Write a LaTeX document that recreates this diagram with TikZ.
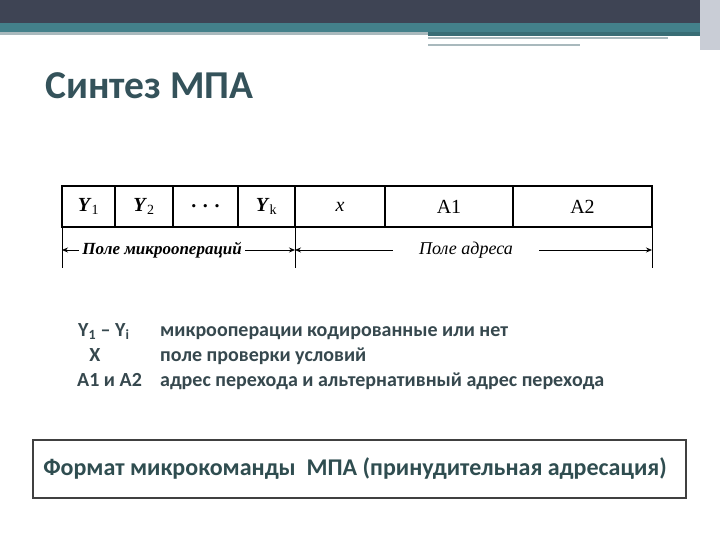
\documentclass[tikz,border=0pt]{standalone}
\usepackage{fontspec}
\setmainfont{Carlito}
\newfontfamily\bookfont{Liberation Serif}
\usetikzlibrary{positioning,arrows.meta}

\definecolor{barDark}{HTML}{3E4454}
\definecolor{barTeal}{HTML}{43808A}
\definecolor{barGrey}{HTML}{A9B9BD}
\definecolor{barSide}{HTML}{C9CDD6}
\definecolor{titleInk}{HTML}{34525A}
\definecolor{textInk}{HTML}{36484E}
\definecolor{boxInk}{HTML}{2F4D50}

\tikzset{
  cell/.style={draw, line width=1.8pt, minimum height=41pt, inner sep=0pt, outer sep=0pt,
    font=\bookfont\fontsize{20}{20}\selectfont},
  span/.style={{Stealth[length=6pt,width=5pt]}-{Stealth[length=6pt,width=5pt]}, line width=0.8pt},
  spanlabel/.style={fill=white, inner sep=3pt, font=\bookfont\itshape\fontsize{18}{18}\selectfont},
  legend/.style={text=textInk, inner sep=0pt, font=\bfseries\fontsize{20}{20}\selectfont},
}

\begin{document}
\begin{tikzpicture}[x=1pt, y=-1pt]
  \useasboundingbox (0,0) rectangle (720,540);
  \fill[white] (0,0) rectangle (720,540);

  % slide header bars
  \fill[barDark] (0,0) rectangle (720,23);
  \fill[barTeal] (0,23) rectangle (720,32);
  \fill[barTeal!85!black] (428,32) rectangle (700,36);
  \fill[barGrey] (0,32) rectangle (428,35);
  \fill[barGrey] (428,37) rectangle (668,39);
  \fill[barGrey] (428,44) rectangle (580,46);
  \fill[barSide] (700,0) rectangle (720,50);

  % title
  \node[anchor=west, inner sep=0pt, text=titleInk, font=\bfseries\fontsize{39.5}{39.5}\selectfont] (title) at (45,86) {Синтез МПА};

  % microcommand format
  \node[cell, minimum width=53pt] (y1) at (88.5,206.5) {\textbf{\textit{Y}}\textsubscript{1}};
  \node[cell, minimum width=58pt, right=0pt of y1] (y2) {\textbf{\textit{Y}}\textsubscript{2}};
  \node[cell, minimum width=65pt, right=0pt of y2] (dots) {\textbf{.\,\,.\,\,.}};
  \node[cell, minimum width=57pt, right=0pt of dots] (yk) {\textbf{\textit{Y}}\textsubscript{k}};
  \node[cell, minimum width=90pt, right=0pt of yk] (cond) {\textit{x}};
  \node[cell, minimum width=128pt, right=0pt of cond] (a1) {A1};
  \node[cell, minimum width=139pt, right=0pt of a1] (a2) {A2};

  % field borders
  \coordinate (bl) at ([yshift=-41pt]y1.south west);
  \coordinate (bm) at ([yshift=-41pt]yk.south east);
  \coordinate (br) at ([yshift=-41pt]a2.south east);
  \draw[line width=0.9pt] (y1.south west) -- (bl);
  \draw[line width=0.9pt] (yk.south east) -- (bm);
  \draw[line width=0.9pt] (a2.south east) -- (br);

  % field spans
  \coordinate (sl) at ([yshift=-23pt]y1.south west);
  \coordinate (sm) at ([yshift=-23pt]yk.south east);
  \coordinate (sr) at ([yshift=-23pt]a2.south east);
  \draw[span] (sl) -- (sm) node[spanlabel, pos=0.43, font=\bookfont\bfseries\itshape\fontsize{17}{17}\selectfont] (ops) {Поле микроопераций};
  \draw[span] (sm) -- (sr) node[spanlabel, pos=0.479, inner xsep=26pt] (addr) {Поле адреса};

  % legend
  \node[legend, anchor=base west] (k1) at (78,336) {Y\textsubscript{1} – Y\textsubscript{i}};
  \node[legend, anchor=base] (k2) at (95,361) {X};
  \node[legend, anchor=base west] (k3) at (77,386) {A1 и A2};
  \node[legend, anchor=base west] (d1) at (160,336) {микрооперации кодированные или нет};
  \node[legend, anchor=base west] (d2) at (160,361) {поле проверки условий};
  \node[legend, anchor=base west] (d3) at (160,386) {адрес перехода и альтернативный адрес перехода};

  % caption box
  \node[draw=black!75, line width=1.2pt, minimum width=653pt, minimum height=58pt, inner sep=0pt,
    text=boxInk, font=\bfseries\fontsize{24}{24}\selectfont] (fmt) at (359.5,469)
    {\hspace*{-9pt}Формат микрокоманды\ \ МПА (принудительная адресация)};
\end{tikzpicture}
\end{document}
